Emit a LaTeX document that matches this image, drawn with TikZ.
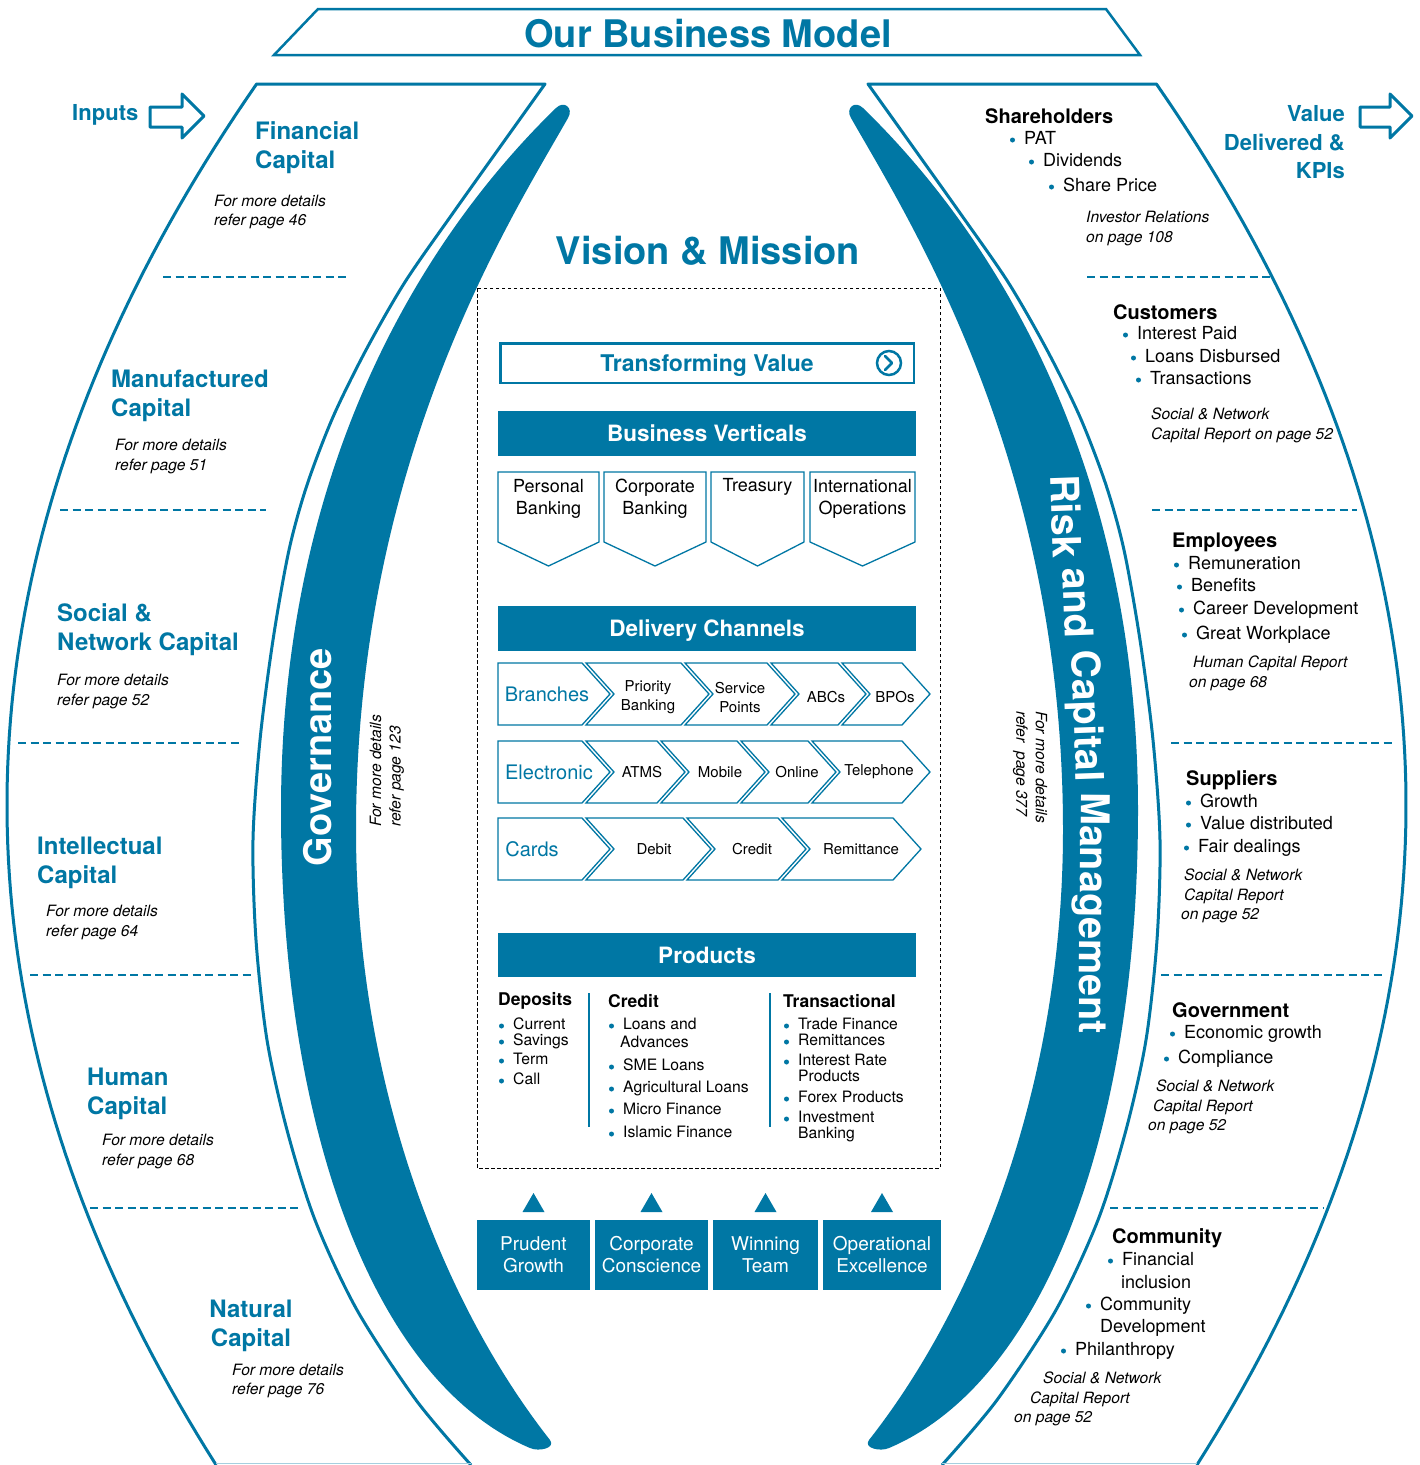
\documentclass[tikz,border=0pt]{standalone}
\usepackage{fontspec}
\setmainfont{TeX Gyre Heros}
\definecolor{bmblue}{RGB}{0,119,164}
\tikzset{band/.style={draw=bmblue, line width=3pt, line join=round}}
\tikzset{divline/.style={draw=bmblue, line width=2pt, dash pattern=on 8pt off 4.5pt}}
\tikzset{capital/.style={font=\fontsize{24}{29}\selectfont\bfseries, text=bmblue,
           align=left, anchor=west, inner sep=0pt},
         refnote/.style={font=\fontsize{15.6}{19.5}\selectfont\itshape,
           align=left, anchor=west, inner sep=0pt},
         holder/.style={font=\fontsize{20}{24}\selectfont\bfseries, anchor=west, inner sep=0pt},
         item/.style={font=\fontsize{18}{22}\selectfont, anchor=west, inner sep=0pt,
           text height=13pt, text depth=4pt},
         pitem/.style={font=\fontsize{15.7}{19}\selectfont, anchor=west, inner sep=0pt,
           text height=11pt, text depth=3.5pt},
         phead/.style={font=\fontsize{17.5}{20}\selectfont\bfseries, anchor=west, inner sep=0pt},
         riskword/.style={font=\fontsize{39.5}{42}\selectfont\bfseries, text=white,
           anchor=base, inner sep=0pt}}
\tikzset{bar/.style={fill=bmblue, text=white, font=\fontsize{22.5}{26}\selectfont\bfseries,
           minimum width=418pt, minimum height=45pt, inner sep=0pt, text depth=0pt},
         chev/.style={draw=bmblue, line width=1.3pt, line join=miter},
         chevtext/.style={font=\fontsize{15}{19}\selectfont, align=center, inner sep=0pt},
         chevhead/.style={font=\fontsize{20}{24}\selectfont, text=bmblue, inner sep=0pt},
         pillar/.style={fill=bmblue, text=white, font=\fontsize{19}{22}\selectfont,
           align=center, minimum height=70pt, inner sep=0pt},
         sidehead/.style={font=\fontsize{22}{28.5}\selectfont\bfseries, text=bmblue, inner sep=0pt}}

% bullet item: name, x, y, text
\newcommand{\bitem}[5][item]{%
  \node[#1] (#2) at (#3,#4) {#5};
  \fill[bmblue] (#2.west) ++(-11.5,0) circle (2.5);}

\begin{document}
\begin{tikzpicture}[x=1pt, y=-1pt]
  \useasboundingbox (0,0) rectangle (1420,1465);
  \fill[white] (0,0) rectangle (1420,1465);

  % title banner
  \draw[bmblue, line width=2.5pt] (318,9) -- (1106,9) -- (1140,55) -- (274,55) -- cycle;
  \node[font=\fontsize{38}{40}\selectfont\bfseries, text=bmblue, inner sep=0pt] (title) at (708,34) {Our Business Model};

  % the two side bands and crescents (right one mirrored)
  \foreach \sx/\dx/\cx in {1/0/0, -1/1413/1419} {
    \begin{scope}[shift={(\dx,0)}, xscale=\sx]
      \draw[band] plot[smooth] coordinates {(471,1465) (416,1400) (357,1310) (315,1220)
          (287,1130) (267,1040) (256,940) (253,840) (260,740) (273,640) (289,550)
          (307,485) (333,417) (366,350) (405,282) (453,213) (500,147) (545,84)}
        -- plot[domain=84:1465, samples=90, variable=\yy]
          ({7+((\yy-805)*0.02191)*((\yy-805)*0.02191)}, \yy);
      \draw[bmblue!35, line width=1.5pt] (216,1463.5) -- (471,1463.5);
    \end{scope}
    \begin{scope}[shift={(\cx,0)}, xscale=\sx]
      \fill[bmblue] (556,108) .. controls (420,240) and (281,470) .. (281,810)
        .. controls (281,1120) and (370,1380) .. (530,1448)
        .. controls (539,1452) and (556,1448) .. (550,1440)
        .. controls (440,1300) and (356,1080) .. (356,830)
        .. controls (356,460) and (510,220) .. (568,118)
        .. controls (574,108) and (564,100) .. (556,108) -- cycle;
    \end{scope}
  }

  % inputs arrow and outputs arrow
  \node[sidehead, anchor=west] (inputs) at (72,115) {Inputs};
  \draw[bmblue, line width=3pt, line join=round] (150,107) -- (182,107) -- (182,94) -- (204,116)
    -- (182,138) -- (182,127) -- (150,127) -- cycle;
  \node[sidehead, anchor=east, align=right] (outputs) at (1345,142.5) {Value\\Delivered \&\\KPIs};
  \draw[bmblue, line width=3pt, line join=round] (1360,107) -- (1390,107) -- (1390,94) -- (1412,116)
    -- (1390,138) -- (1390,127) -- (1360,127) -- cycle;

  % capitals (left)
  \node[capital] (fin) at (255,148) {Financial\\Capital};
  \node[refnote] (finref) at (214,212) {For more details\\refer page 46};
  \draw[divline] (163,277) -- (346,277);
  \node[capital] (man) at (111,396) {Manufactured\\Capital};
  \node[refnote] (manref) at (115,456.5) {For more details\\refer page 51};
  \draw[divline] (60,510) -- (266,510);
  \node[capital] (soc) at (57,630) {Social \&\\Network Capital};
  \node[refnote] (socref) at (57,691.5) {For more details\\refer page 52};
  \draw[divline] (18,743) -- (240,743);
  \node[capital] (intel) at (37,862.5) {Intellectual\\Capital};
  \node[refnote] (intref) at (46,922.5) {For more details\\refer page 64};
  \draw[divline] (30,975) -- (251,975);
  \node[capital] (hum) at (87,1093.5) {Human\\Capital};
  \node[refnote] (humref) at (102,1151.5) {For more details\\refer page 68};
  \draw[divline] (90,1208) -- (302,1208);
  \node[capital, align=center, anchor=center] (nat) at (251,1326) {Natural\\Capital};
  \node[refnote] (natref) at (232,1381) {For more details\\refer page 76};

  % stakeholders (right)
  \node[holder] (sh) at (985,116) {Shareholders};
  \bitem{sh1}{1024}{140}{PAT}
  \bitem{sh2}{1043}{162}{Dividends}
  \bitem{sh3}{1063}{187}{Share Price}
  \node[refnote] (shref) at (1086,228.5) {Investor Relations\\on page 108};
  \draw[divline] (1087,277) -- (1272,277);
  \node[holder] (cu) at (1113,312) {Customers};
  \bitem{cu1}{1137}{335}{Interest Paid}
  \bitem{cu2}{1145}{358}{Loans Disbursed}
  \bitem{cu3}{1150}{380}{Transactions}
  \node[refnote] (curef) at (1151,425.5) {Social \& Network\\Capital Report on page 52};
  \draw[divline] (1152,510) -- (1357,510);
  \node[holder] (em) at (1172,542) {Employees};
  \bitem{em1}{1188}{565}{Remuneration}
  \bitem{em2}{1191}{587}{Benefits}
  \bitem{em3}{1193}{610}{Career Development}
  \bitem{em4}{1196}{635}{Great Workplace}
  \node[refnote] (emref) at (1189,673.5) {\hspace*{4pt}Human Capital Report\\on page 68};
  \draw[divline] (1171,743) -- (1392,743);
  \node[holder] (su) at (1186,780) {Suppliers};
  \bitem{su1}{1200}{803}{Growth}
  \bitem{su2}{1200}{825}{Value distributed}
  \bitem{su3}{1198}{848}{Fair dealings}
  \node[refnote] (suref) at (1181,896) {\hspace*{3pt}Social \& Network\\\hspace*{3pt}Capital Report\\on page 52};
  \draw[divline] (1161,975) -- (1382,975);
  \node[holder] (go) at (1172,1010) {Government};
  \bitem{go1}{1184}{1034}{Economic growth}
  \bitem{go2}{1178}{1059}{Compliance}
  \node[refnote] (goref) at (1148,1107) {\hspace*{8pt}Social \& Network\\\hspace*{5pt}Capital Report\\on page 52};
  \draw[divline] (1110,1208) -- (1323,1208);
  \node[holder] (co) at (1112,1238) {Community};
  \bitem{co1}{1122}{1261}{Financial}
  \node[item] (co1b) at (1121,1284) {inclusion};
  \bitem{co2}{1100}{1306}{Community}
  \node[item] (co2b) at (1100,1328) {Development};
  \bitem{co3}{1075}{1351}{Philanthropy}
  \node[refnote] (coref) at (1014,1399) {\hspace*{29pt}Social \& Network\\\hspace*{16pt}Capital Report\\on page 52};

  % band labels
  \node[rotate=90, font=\fontsize{38}{40}\selectfont\bfseries, text=white, inner sep=0pt] (gov) at (318,757) {Governance};
  \node[rotate=90, font=\fontsize{15.6}{19.5}\selectfont\itshape, align=left, inner sep=0pt] (govref) at (387,771) {For more details\\refer page 123};
  % risk label follows the band, word by word
  \node[riskword, rotate=-88] (risk1) at (1052,517) {Risk};
  \node[riskword, rotate=-88] (risk2) at (1064,604) {and};
  \node[riskword, rotate=-88] (risk3) at (1074,716.5) {Capital};
  \node[riskword, rotate=-90.5] (risk4) at (1080,913) {Management};
  \node[rotate=-90, font=\fontsize{15.6}{19.5}\selectfont\itshape, align=left, inner sep=0pt] (riskref) at (1030,767) {For more details\\refer\ \ page 377};

  % vision and mission
  \node[font=\fontsize{38}{40}\selectfont\bfseries, text=bmblue, inner sep=0pt] (vision) at (708,251) {Vision \& Mission};
  \draw[line width=1pt, dash pattern=on 3.5pt off 2.5pt] (477,288) rectangle (940,1168);
  \node[draw=bmblue, line width=2.5pt, minimum width=413.5pt, minimum height=39.5pt, inner sep=0pt,
        text depth=0pt, font=\fontsize{23}{26}\selectfont\bfseries, text=bmblue] (tval) at (707,363) {Transforming Value};
  \node[circle, draw=bmblue, line width=2.5pt, minimum size=24pt, inner sep=0pt] (tvicon) at (889,363) {};
  \draw[bmblue, line width=2.5pt, line cap=round, line join=round]
    (tvicon.center) ++(-4,-7) -- ++(7,7) -- ++(-7,7);

  % business verticals
  \node[bar] (verticals) at (707,433.5) {Business Verticals};
  \foreach \a/\b/\t [count=\i] in {498/599/{Personal\\Banking}, 604/706/{Corporate\\Banking},
      711/804/{Treasury\\\strut}, 810/915/{International\\Operations}} {
    \draw[chev] (\a,472) -- (\b,472) -- (\b,542) -- ({(\a+\b)/2},566) -- (\a,542) -- cycle;
    \node[font=\fontsize{18}{22}\selectfont, align=center, inner sep=0pt] (bv\i) at ({(\a+\b)/2},499) {\t};
  }

  % delivery channels
  \node[bar] (channels) at (707,628.5) {Delivery Channels};
  \foreach \y/\h/\c [count=\r] in {694/Branches/547, 772/Electronic/549, 849/Cards/532} {
    \draw[chev] (498,\y-31) -- (582,\y-31) -- (610,\y) -- (582,\y+31) -- (498,\y+31) -- cycle;
    \node[chevhead] (dc\r) at (\c,\y) {\h};
  }
  \foreach \l/\rr/\t/\c [count=\i] in {586/681/{Priority\\Banking}/648, 685/767/{Service\\Points}/740,
      771/838/ABCs/826, 842/902/BPOs/895} {
    \draw[chev] (\l,663) -- (\rr,663) -- (\rr+28,694) -- (\rr,725) -- (\l,725) -- (\l+28,694) -- cycle;
    \node[chevtext] (dca\i) at (\c,697) {\t};
  }
  \foreach \l/\rr/\t/\c [count=\i] in {586/657/ATMS/642, 661/737/Mobile/720,
      741/808/Online/797, 812/902/Telephone/879} {
    \draw[chev] (\l,741) -- (\rr,741) -- (\rr+28,772) -- (\rr,803) -- (\l,803) -- (\l+28,772) -- cycle;
    \node[chevtext] (dcb\i) at (\c,772) {\t};
  }
  \foreach \l/\rr/\t/\c [count=\i] in {586/683/Debit/654, 687/778/Credit/752, 782/893/Remittance/861} {
    \draw[chev] (\l,818) -- (\rr,818) -- (\rr+28,849) -- (\rr,880) -- (\l,880) -- (\l+28,849) -- cycle;
    \node[chevtext] (dcc\i) at (\c,849) {\t};
  }

  % products
  \node[bar, minimum height=44pt] (products) at (707,955) {Products};
  \node[phead] (dep) at (498,1001) {Deposits};
  \node[phead] (cred) at (608,1001) {Credit};
  \node[phead] (trans) at (783,1001) {Transactional};
  \draw[bmblue, line width=1.5pt] (589,993) -- (589,1127);
  \draw[bmblue, line width=1.5pt] (770,993) -- (770,1127);
  \foreach \y/\t [count=\i] in {1026/Current, 1042/Savings, 1061/Term, 1081/Call}
    {\bitem[pitem]{dp\i}{513}{\y}{\t}}
  \foreach \y/\t [count=\i] in {1026/Loans and, 1067/SME Loans, 1089/Agricultural Loans,
      1111/Micro Finance, 1134/Islamic Finance}
    {\bitem[pitem]{cr\i}{623}{\y}{\t}}
  \node[pitem] (cr1b) at (620,1044) {Advances};
  \foreach \y/\t [count=\i] in {1026/Trade Finance, 1042/Remittances, 1062/Interest Rate,
      1099/Forex Products, 1119/Investment}
    {\bitem[pitem]{tr\i}{798}{\y}{\t}}
  \node[pitem] (tr3b) at (798,1078) {Products};
  \node[pitem] (tr5b) at (798,1135) {Banking};

  % values
  \foreach \x/\w/\t [count=\i] in {533.5/113/{Prudent\\Growth}, 651.5/113/{Corporate\\Conscience},
      765.5/105/{Winning\\Team}, 882/118/{Operational\\Excellence}} {
    \node[pillar, minimum width=\w pt] (val\i) at (\x,1255) {\t};
    \fill[bmblue] (\x-11,1212) -- (\x+11,1212) -- (\x,1193) -- cycle;
  }
\end{tikzpicture}
\end{document}
